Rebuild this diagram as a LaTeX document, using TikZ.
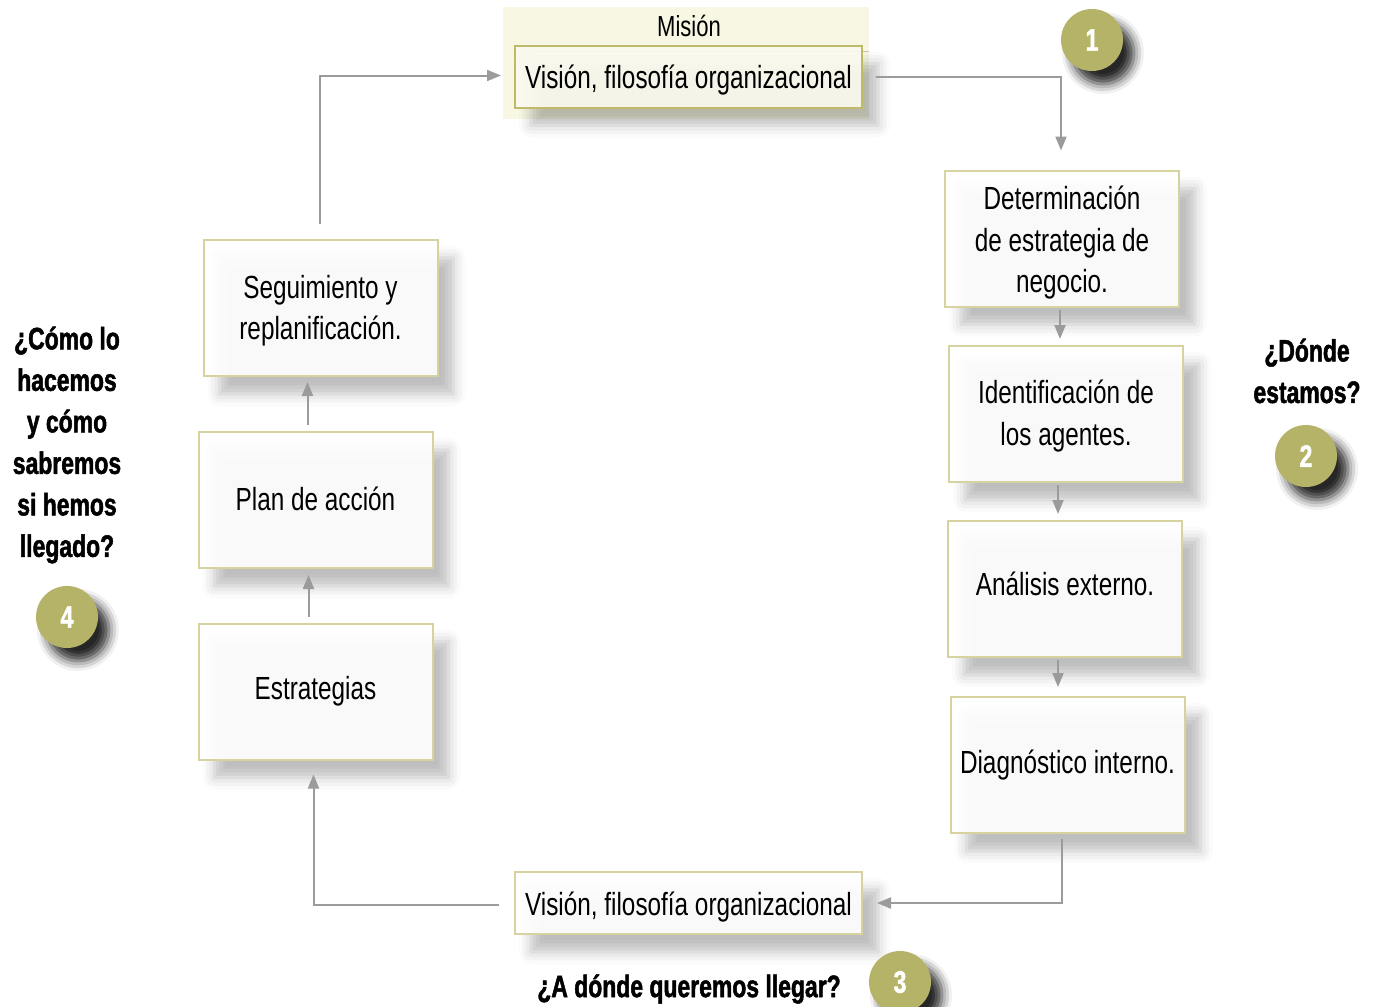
\documentclass[tikz,border=0pt]{standalone}
\usepackage{fontspec}
\setmainfont{Liberation Sans}[FakeStretch=0.76,
  BoldFont={Liberation Sans Bold}, BoldFeatures={FakeStretch=0.74, FakeBold=1.6}]
\usetikzlibrary{arrows.meta,shadows.blur}
\definecolor{boxline}{RGB}{214,211,160}
\definecolor{topline}{RGB}{190,186,106}
\definecolor{missionbg}{RGB}{247,247,228}
\definecolor{badge}{RGB}{180,179,104}
\definecolor{linkgray}{RGB}{155,155,155}
% move one line of a box label down without changing the box size
\newcommand\lowerby[2]{\raisebox{-#1}[\height][\depth]{#2}}
\begin{document}
\begin{tikzpicture}[x=1pt,y=-1pt,
  boxshadow/.style={blur shadow={shadow xshift=16pt, shadow yshift=-18pt,
      shadow opacity=28, shadow blur radius=12pt}},
  stepbox/.style={draw=boxline, line width=2pt, fill=white, fill opacity=0.92,
      text opacity=1, minimum width=234pt, minimum height=136pt, align=center,
      inner sep=0pt, font=\fontsize{32}{41.5}\selectfont, boxshadow},
  visionbox/.style={stepbox, minimum width=347pt, minimum height=62pt},
  badge/.style={circle, fill=badge, minimum size=62pt, inner sep=0pt, text=white,
      font=\bfseries\fontsize{31}{31}\selectfont,
      blur shadow={shadow xshift=11pt, shadow yshift=-13pt, shadow opacity=85,
      shadow blur radius=10pt}},
  question/.style={align=center, inner sep=0pt, font=\bfseries\fontsize{31}{41.5}\selectfont},
  link/.style={draw=linkgray, line width=2pt, -{Triangle[length=14pt,width=11pt]}}]
\useasboundingbox (0,0) rectangle (1382,1007);

% mission band with its title
\node[fill=missionbg, minimum width=366pt, minimum height=112pt, inner sep=0pt] (band) at (686,63) {};
\node[font=\fontsize{29}{29}\selectfont, inner sep=0pt] (mision) at (689,26) {Misión};
\node[visionbox, draw=topline, fill=missionbg!60!white] (top) at (688.5,76.5)
  {\lowerby{4pt}{Visión, filosofía organizacional}};

% right column
\node[stepbox] (det) at (1062,238.5)
  {\lowerby{4.5pt}{Determinación}\\\lowerby{4.5pt}{de estrategia de}\\\lowerby{4.5pt}{negocio.}};
\node[stepbox] (ident) at (1066,414)
  {\lowerby{2pt}{Identificación de}\\\lowerby{2pt}{los agentes.}};
\node[stepbox] (anal) at (1065,589) {\lowerby{-5pt}{Análisis externo.}};
\node[stepbox] (diag) at (1067.5,765) {Diagnóstico interno.};

% bottom
\node[visionbox] (bot) at (688.5,903) {\lowerby{4pt}{Visión, filosofía organizacional}};

% left column
\node[stepbox] (seg) at (320.5,308)
  {\lowerby{2.5pt}{Seguimiento y}\\\lowerby{2.5pt}{replanificación.}};
\node[stepbox] (plan) at (315.5,500) {\lowerby{-1pt}{Plan de acción}};
\node[stepbox] (estr) at (315.5,691.5) {Estrategias};

% questions and numbered badges
\node[question] (q1) at (67,445) {¿Cómo lo\\hacemos\\y cómo\\sabremos\\si hemos\\llegado?};
\node[question] (q2) at (1307,371) {¿Dónde\\estamos?};
\node[question] (q3) at (689,989) {¿A dónde queremos llegar?};
\node[badge] (b1) at (1092,40) {1};
\node[badge] (b2) at (1306,456) {2};
\node[badge] (b3) at (900,982) {3};
\node[badge] (b4) at (67,617) {4};

% connectors
\draw[link] ([xshift=13pt]top.east) -| ([xshift=-1pt,yshift=19pt]det.north);
\draw[link] ([xshift=-2pt,yshift=-2pt]det.south) -- ([xshift=-2pt,yshift=6pt]det.south |- ident.north);
\draw[link] ([xshift=-8pt,yshift=-2pt]ident.south) -- ([xshift=-8pt,yshift=6pt]ident.south |- anal.north);
\draw[link] ([xshift=-7pt,yshift=-2pt]anal.south) -- ([xshift=-7pt,yshift=9pt]anal.south |- diag.north);
\draw[link] ([xshift=-6pt,yshift=-5pt]diag.south) |- ([xshift=14pt]bot.east);
\draw[link] ([xshift=-15pt,yshift=-2pt]bot.west) -| ([xshift=-2pt,yshift=-14pt]estr.south);
\draw[link] ([xshift=-7pt,yshift=6pt]estr.north) -- ([xshift=-7pt,yshift=-6pt]estr.north |- plan.south);
\draw[link] ([xshift=-8pt,yshift=6pt]plan.north) -- ([xshift=-8pt,yshift=-5pt]plan.north |- seg.south);
\draw[link] ([xshift=-0.5pt,yshift=15pt]seg.north) |- ([xshift=-13pt,yshift=1pt]top.west);
\end{tikzpicture}
\end{document}
